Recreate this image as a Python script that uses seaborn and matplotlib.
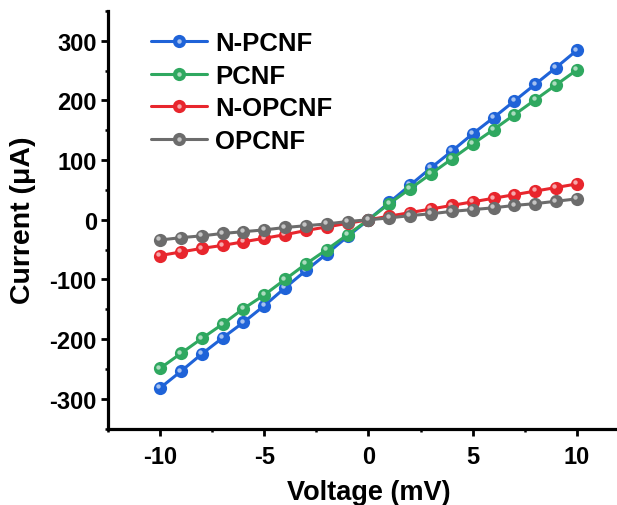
import numpy as np
import pandas as pd
import seaborn as sns
import matplotlib
matplotlib.use("Agg")
import matplotlib.pyplot as plt
from matplotlib.lines import Line2D
from matplotlib.legend_handler import HandlerTuple
from matplotlib.ticker import MultipleLocator
from matplotlib.transforms import ScaledTranslation
from matplotlib.colors import to_rgb

# I–V sweep data
voltage = [-10, -9, -8, -7, -6, -5, -4, -3, -2, -1, 0, 1, 2, 3, 4, 5, 6, 7, 8, 9, 10]
n_pcnf = [-282, -254, -225, -198, -172, -144, -114, -85, -57, -28, 0,
          29, 58, 87, 115, 144, 171, 199, 227, 255, 284]
pcnf = [-249, -224, -199, -175, -149, -126, -100, -74, -50, -25, 0,
        27, 52, 77, 102, 127, 151, 176, 201, 226, 251]
n_opcnf = [-60, -54, -48, -43, -37, -31, -25, -18, -12, -6, 0,
           6, 12, 18, 24, 30, 36, 42, 48, 54, 60]
opcnf = [-34, -30, -27, -23, -20, -17, -13, -10, -7, -3, 0,
         3, 7, 10, 14, 17, 20, 24, 27, 31, 35]

samples = ["N-PCNF", "PCNF", "N-OPCNF", "OPCNF"]
colors = ["#1f63d8", "#2fa860", "#e8262d", "#6c6c6c"]

df = pd.concat([
    pd.DataFrame({"Voltage": voltage, "Current": vals, "Sample": name})
    for name, vals in zip(samples, [n_pcnf, pcnf, n_opcnf, opcnf])
], ignore_index=True)

sns.set_theme(style="ticks")
plt.rcParams["font.family"] = ["Liberation Sans", "DejaVu Sans"]
plt.rcParams["font.weight"] = "bold"
plt.rcParams["axes.unicode_minus"] = False
for key in ["text.color", "axes.labelcolor", "xtick.color", "ytick.color",
            "xtick.labelcolor", "ytick.labelcolor"]:
    plt.rcParams[key] = "black"

fig = plt.figure(figsize=(6.17, 5.06), dpi=100)
ax = fig.add_axes([0.175, 0.151, 0.8444, 0.8255])

palette = dict(zip(samples, colors))
light = {s: tuple(0.4 * np.array(to_rgb(c)) + 0.6) for s, c in palette.items()}
shift = ScaledTranslation(-1.2 / 72, 1.2 / 72, fig.dpi_scale_trans)

for name in samples:
    sub = df[df["Sample"] == name]
    sns.lineplot(data=sub, x="Voltage", y="Current", color=palette[name],
                 marker="o", markersize=9.5, markeredgewidth=0,
                 linewidth=2.2, ax=ax, legend=False, zorder=3)
    # specular highlight on each bead
    n_before = len(ax.collections)
    sns.scatterplot(data=sub, x="Voltage", y="Current", color=light[name],
                    s=10, linewidth=0, ax=ax, legend=False, zorder=3)
    for coll in ax.collections[n_before:]:
        coll.set_offset_transform(ax.transData + shift)

ax.set_xlim(-12.5, 12.5)
ax.set_ylim(-350, 350)
ax.xaxis.set_major_locator(MultipleLocator(5))
ax.xaxis.set_minor_locator(MultipleLocator(2.5))
ax.yaxis.set_major_locator(MultipleLocator(100))
ax.yaxis.set_minor_locator(MultipleLocator(50))

for side in ["top", "right"]:
    ax.spines[side].set_visible(False)
for side in ["left", "bottom"]:
    ax.spines[side].set_linewidth(2.3)
    ax.spines[side].set_color("black")

ax.tick_params(which="major", direction="out", length=5, width=2.0,
               labelsize=17, color="black", labelcolor="black")
ax.tick_params(axis="x", which="major", pad=7)
ax.tick_params(axis="y", which="major", pad=3)
ax.tick_params(which="minor", direction="out", length=2.5, width=1.8, color="black")
for lab in ax.get_xticklabels() + ax.get_yticklabels():
    lab.set_fontweight("bold")

ax.set_xlabel("Voltage (mV)", fontsize=19.5, fontweight="bold", labelpad=8)
ax.set_ylabel("Current (μA)", fontsize=20.5, fontweight="bold", labelpad=10)

handles = []
for name in samples:
    main = Line2D([], [], color=palette[name], marker="o", markersize=9.5,
                  markeredgewidth=0, linewidth=2.2)
    hi = Line2D([], [], linestyle="none", marker="o", markersize=3.2,
                markeredgewidth=0, color=light[name])
    handles.append((main, hi))

ax.legend(handles, samples, handler_map={tuple: HandlerTuple(ndivide=1)},
          loc="upper left", bbox_to_anchor=(0.082, 0.952), frameon=False,
          prop={"size": 18.5, "weight": "bold"}, handlelength=2.2,
          handletextpad=0.3, labelspacing=0.34, borderpad=0, borderaxespad=0)

fig.savefig("out.png", dpi=100)
